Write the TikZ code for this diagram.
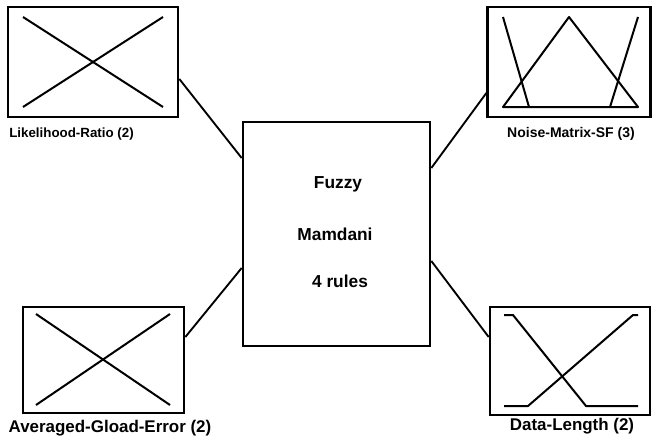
\documentclass[tikz,border=0pt]{standalone}
\usepackage{fontspec}
\setmainfont{Liberation Sans}
\usetikzlibrary{positioning}

\tikzset{
	mfbox/.style={draw,line width=2pt,inner sep=0pt},
	mfline/.style={line width=1.5pt,line join=round},
	wire/.style={line width=1.4pt},
	varlabel/.style={font=\bfseries\fontsize{10}{12}\selectfont,anchor=base},
	biglabel/.style={varlabel,font=\bfseries\fontsize{12.7}{15}\selectfont},
	fistext/.style={font=\bfseries\fontsize{13}{15}\selectfont,anchor=base}
}

\begin{document}
\begin{tikzpicture}[x=0.75pt,y=-0.75pt]
	\useasboundingbox (0,0) rectangle (652,446);
	% the rule block
	\node[mfbox,minimum width=140.25pt,minimum height=168pt] (fis) at (336.5,234) {};
	\node[fistext] (fuzzy) at (338,188) {Fuzzy};
	\node[fistext] (mamdani) at (335,240) {Mamdani};
	\node[fistext] (rules) at (340,287) {4 rules};
	% inputs and output
	\node[mfbox,minimum width=127.5pt,minimum height=82.5pt] (lr) at (93,62) {};
	\node[mfbox,minimum width=122pt,minimum height=82.5pt] (nm) at (569,62) {};
	\node[mfbox,minimum width=120.75pt,minimum height=79.5pt] (age) at (103.5,360) {};
	\node[mfbox,minimum width=120pt,minimum height=81pt] (dl) at (570,361) {};
	\node[varlabel] (lrlabel) at (71.5,137) {Likelihood-Ratio (2)};
	\node[varlabel,font=\bfseries\fontsize{10.5}{12}\selectfont] (nmlabel) at (571,137) {Noise-Matrix-SF (3)};
	\node[biglabel] (agelabel) at (110,432) {Averaged-Gload-Error (2)};
	\node[biglabel] (dllabel) at (572,430) {Data-Length (2)};
	% membership functions
	\draw[mfline] (23,17)--(163,107);
	\draw[mfline] (23,107)--(163,17);
	\draw[mfline] (503,107)--(569,17)--(638,107)--cycle;
	\draw[mfline] (503,17)--(529,107);
	\draw[mfline] (638,17)--(610,107);
	\draw[mfline] (36,314)--(170,405);
	\draw[mfline] (36,405)--(170,314);
	\draw[mfline] (504,315)--(513,315)--(586,406)--(638,406);
	\draw[mfline] (504,406)--(528,406)--(633,315)--(638,315);
	% connections
	\draw[wire] ([yshift=-12.75pt]lr.east)--([yshift=57pt]fis.west);
	\draw[wire] ([yshift=49.5pt]fis.east)--([yshift=-23.25pt]nm.west);
	\draw[wire] ([yshift=17.25pt]age.east)--([yshift=-25.5pt]fis.west);
	\draw[wire] ([yshift=-20.25pt]fis.east)--([yshift=18pt]dl.west);
\end{tikzpicture}
\end{document}
